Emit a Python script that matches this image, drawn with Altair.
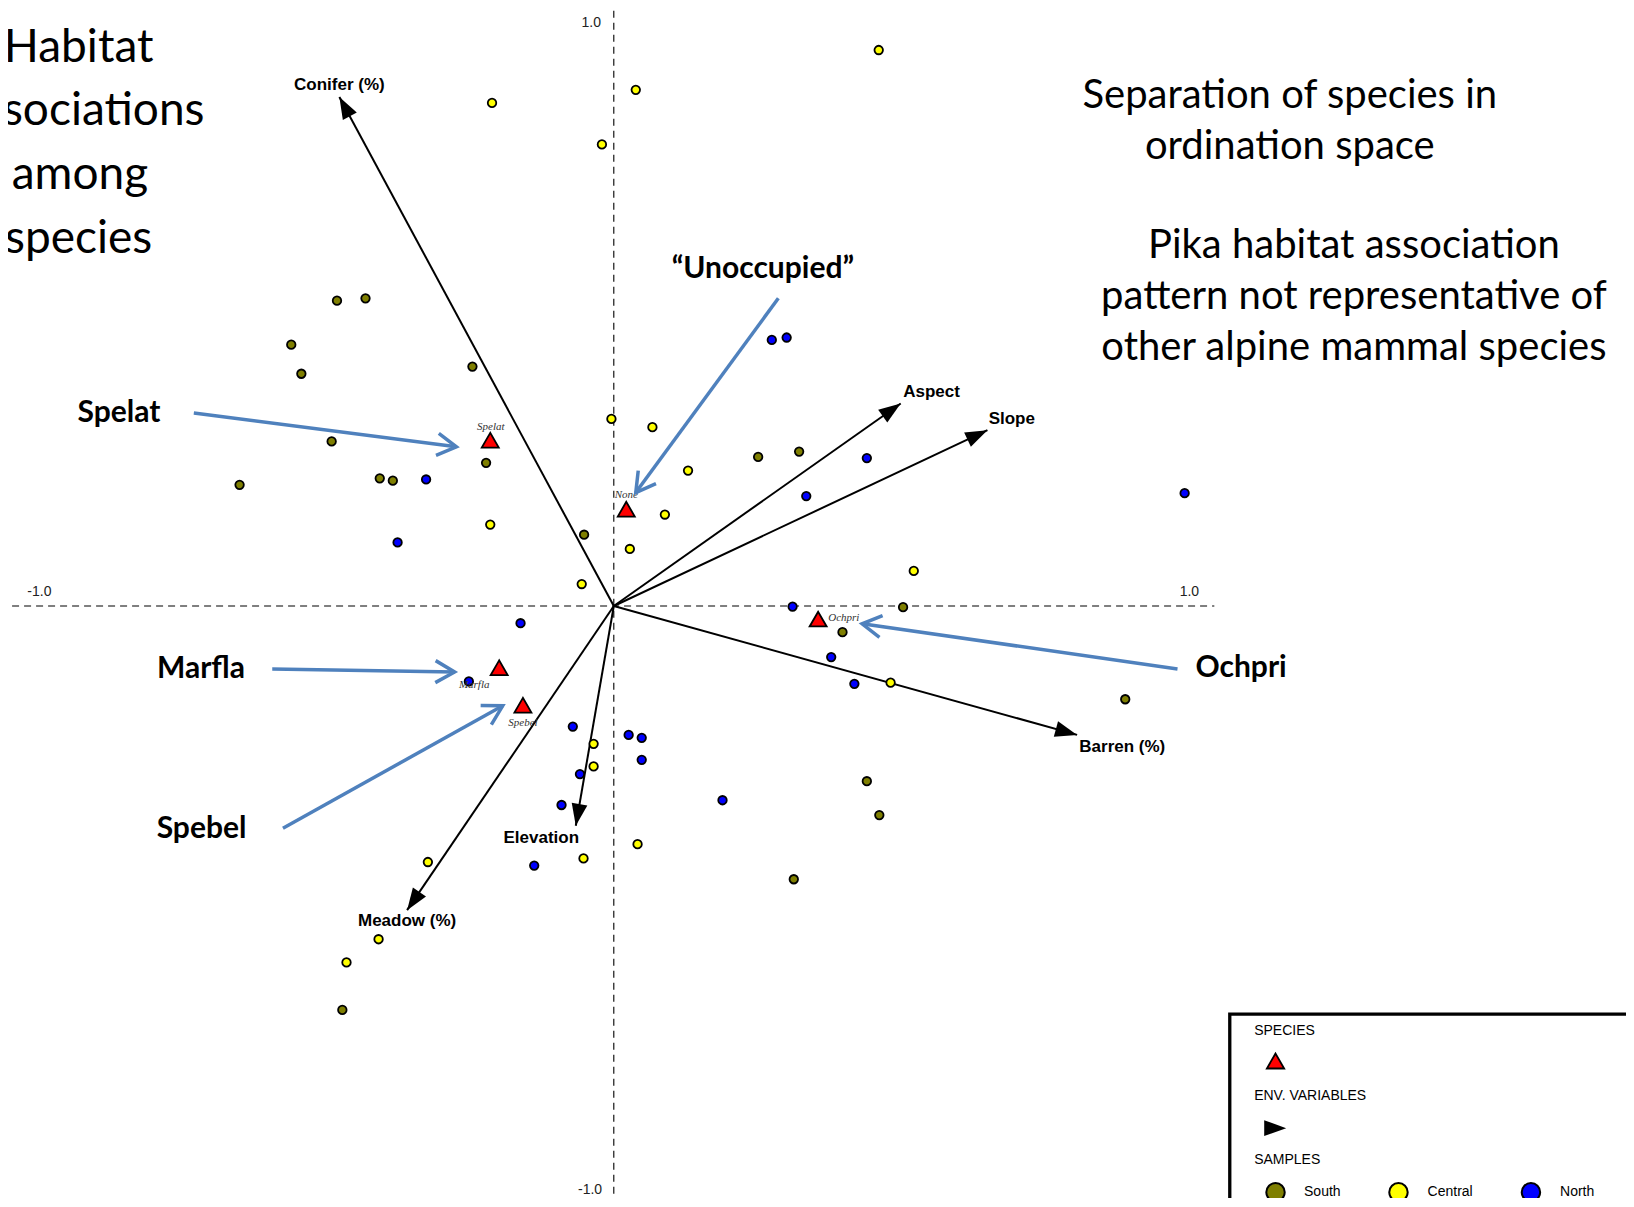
import math
import altair as alt
import pandas as pd

# ---------------- data (ordination coordinates) ----------------
south_x = [-0.466, -0.418, -0.543, -0.526, -0.238, -0.475, -0.630, -0.394, -0.372, -0.215,
           -0.050, 0.243, 0.312, 0.487, 0.385, 0.861, 0.426, 0.447, 0.303, -0.457]
south_y = [0.514, 0.518, 0.440, 0.391, 0.403, 0.277, 0.204, 0.215, 0.211, 0.241,
           0.120, 0.251, 0.260, -0.002, -0.044, -0.157, -0.295, -0.352, -0.460, -0.680]

central_x = [0.446, 0.037, -0.205, -0.020, -0.004, 0.065, 0.125, 0.086, 0.027, -0.208,
             -0.054, 0.505, 0.466, -0.034, -0.034, -0.051, 0.040, -0.313, -0.396, -0.450]
central_y = [0.936, 0.869, 0.847, 0.777, 0.315, 0.301, 0.228, 0.154, 0.096, 0.137,
             0.037, 0.059, -0.129, -0.232, -0.270, -0.425, -0.401, -0.431, -0.561, -0.600]

north_x = [-0.316, -0.364, 0.266, 0.291, 0.426, 0.324, 0.961, 0.301, 0.366, 0.405,
           0.025, 0.047, 0.047, 0.183, -0.157, -0.244, -0.069, -0.057, -0.088, -0.134]
north_y = [0.213, 0.107, 0.448, 0.452, 0.249, 0.185, 0.190, -0.001, -0.086, -0.131,
           -0.217, -0.222, -0.259, -0.327, -0.029, -0.127, -0.203, -0.283, -0.335, -0.437]

species_names = ["Spelat", "None", "Ochpri", "Marfla", "Spebel"]
species_x = [-0.208, 0.021, 0.344, -0.193, -0.153]
species_y = [0.279, 0.163, -0.022, -0.104, -0.167]
species_label_x = [-0.207, 0.021, 0.361, -0.235, -0.153]
species_label_y = [0.302, 0.187, -0.020, -0.133, -0.197]
species_label_align = ["center", "center", "left", "center", "center"]

env_names = ["Conifer (%)", "Aspect", "Slope", "Barren (%)", "Elevation", "Meadow (%)"]
env_x = [-0.462, 0.483, 0.629, 0.780, -0.064, -0.348]
env_y = [0.857, 0.341, 0.296, -0.217, -0.370, -0.512]
env_label_x = [-0.462, 0.535, 0.670, 0.856, -0.122, -0.348]
env_label_y = [0.877, 0.360, 0.315, -0.238, -0.391, -0.531]

ann_names = ["Spelat", "\u201cUnoccupied\u201d", "Ochpri", "Marfla", "Spebel"]
ann_label_x = [-0.833, 0.251, 1.056, -0.695, -0.694]
ann_label_y = [0.325, 0.568, -0.104, -0.106, -0.375]
ann_start_x = [-0.707, 0.277, 0.949, -0.575, -0.557]
ann_start_y = [0.325, 0.518, -0.106, -0.106, -0.374]
ann_end_x = [-0.265, 0.037, 0.418, -0.268, -0.187]
ann_end_y = [0.268, 0.191, -0.030, -0.111, -0.168]

axis_tick_labels = ["-1.0", "1.0", "1.0", "-1.0"]
axis_tick_x = [-0.967, 0.969, -0.038, -0.040]
axis_tick_y = [0.024, 0.024, 0.982, -0.984]

left_title = ["Habitat", "associations", "among", "species"]
left_title_x = [-0.775, -0.689, -0.784, -0.777]
left_title_y = [0.915, 0.809, 0.702, 0.594]

right_text = ["Separation of species in", "ordination space",
              "Pika habitat association", "pattern not representative of",
              "other alpine mammal species"]
right_text_x = [1.138, 1.138, 1.246, 1.246, 1.246]
right_text_y = [0.838, 0.753, 0.586, 0.500, 0.414]

legend_sections = ["SPECIES", "ENV. VARIABLES", "SAMPLES"]
legend_regions = ["South", "Central", "North"]
region_colors = ["#7f7f00", "#ffff00", "#0000ff"]

# ---------------- layout ----------------
UNIT = 594.0           # px per ordination unit
OX, OY = 613.8, 606.0  # page position of the origin
W, H = 1618, 1190
x_dom = [(8 - OX) / UNIT, (8 + W - OX) / UNIT]
y_dom = [(OY - 8 - H) / UNIT, (OY - 8) / UNIT]
xs = alt.Scale(domain=x_dom, nice=False, zero=False)
ys = alt.Scale(domain=y_dom, nice=False, zero=False)


def X(f):
    return alt.X(f, type="quantitative", scale=xs, axis=None)


def Y(f):
    return alt.Y(f, type="quantitative", scale=ys, axis=None)


def X2(f):
    return alt.X2(f)


def Y2(f):
    return alt.Y2(f)


def heading(dx, dy):
    return (math.degrees(math.atan2(dx, dy)) + 360.0) % 360.0


ARROW = "M0,0 L-0.36,1 L0.36,1 Z"
CHEVRON = "M-0.5,0.87 L0,0 L0.5,0.87"
BLUE = "#4f81bd"

# ---------------- frames ----------------
samples = pd.DataFrame({
    "x": south_x + central_x + north_x,
    "y": south_y + central_y + north_y,
    "region": ["South"] * len(south_x) + ["Central"] * len(central_x) + ["North"] * len(north_x),
})

env = pd.DataFrame({"name": env_names, "x": env_x, "y": env_y,
                    "lx": env_label_x, "ly": env_label_y})
env["x0"] = 0.0
env["y0"] = 0.0
env["ang"] = [heading(a, b) for a, b in zip(env_x, env_y)]

species = pd.DataFrame({"name": species_names, "x": species_x, "y": species_y,
                        "lx": species_label_x, "ly": species_label_y,
                        "align": species_label_align})

ann = pd.DataFrame({"name": ann_names, "lx": ann_label_x, "ly": ann_label_y,
                    "x0": ann_start_x, "y0": ann_start_y, "x1": ann_end_x, "y1": ann_end_y})
ann["ang"] = [heading(b - a, d - c) for a, b, c, d in
              zip(ann_start_x, ann_end_x, ann_start_y, ann_end_y)]

axes_df = pd.DataFrame({"x": [-1.013, 0.0], "x2": [1.011, 0.0],
                        "y": [0.0, -1.05], "y2": [0.0, 1.010]})
ticks_df = pd.DataFrame({"t": axis_tick_labels, "x": axis_tick_x, "y": axis_tick_y})
left_df = pd.DataFrame({"t": left_title, "x": left_title_x, "y": left_title_y})
right_df = pd.DataFrame({"t": right_text, "x": right_text_x, "y": right_text_y})

# legend frames
leg_box = pd.DataFrame({"x": [1.037], "x2": [1.80], "y": [-0.687], "y2": [-1.10]})
leg_sec = pd.DataFrame({"t": legend_sections, "x": [1.078] * 3, "y": [-0.716, -0.825, -0.932]})
leg_tri = pd.DataFrame({"x": [1.114], "y": [-0.766]})
leg_arrow = pd.DataFrame({"x": [1.132], "y": [-0.879], "ang": [90.0]})
leg_circ = pd.DataFrame({"region": legend_regions, "x": [1.114, 1.321, 1.544], "y": [-0.987] * 3,
                         "lx": [1.162, 1.370, 1.593]})

fill_scale = alt.Scale(domain=legend_regions, range=region_colors)

# ---------------- layers ----------------
axes_layer = alt.Chart(axes_df).mark_rule(color="black", strokeWidth=1.1, strokeDash=[7, 5]).encode(
    x=X("x"), x2=X2("x2"), y=Y("y"), y2=Y2("y2"))

ticks_layer = alt.Chart(ticks_df).mark_text(font="Liberation Sans", fontSize=14, color="#222222",
                                            align="center", baseline="middle").encode(
    x=X("x"), y=Y("y"), text="t:N")

env_lines = alt.Chart(env).mark_rule(color="black", strokeWidth=2).encode(
    x=X("x0"), y=Y("y0"), x2=X2("x"), y2=Y2("y"))
env_heads = alt.Chart(env).mark_point(shape=ARROW, filled=True, color="black", size=1936, opacity=1).encode(
    x=X("x"), y=Y("y"), angle=alt.Angle("ang:Q", scale=None))
env_labels = alt.Chart(env).mark_text(font="Liberation Sans", fontWeight="bold", fontSize=17,
                                      color="black", align="center", baseline="middle").encode(
    x=X("lx"), y=Y("ly"), text="name:N")

sample_pts = alt.Chart(samples).mark_point(shape="circle", filled=True, size=72, stroke="black",
                                           strokeWidth=1.8, opacity=1).encode(
    x=X("x"), y=Y("y"), fill=alt.Fill("region:N", scale=fill_scale, legend=None))

species_pts = alt.Chart(species).mark_point(shape="triangle-up", filled=True, fill="#ff0000",
                                            stroke="black", strokeWidth=1.8, size=289, opacity=1).encode(
    x=X("x"), y=Y("y"))
species_lab_c = alt.Chart(species).transform_filter(alt.datum.align == "center").mark_text(
    font="Liberation Serif", fontStyle="italic", fontSize=11, color="#333333",
    align="center", baseline="middle").encode(x=X("lx"), y=Y("ly"), text="name:N")
species_lab_l = alt.Chart(species).transform_filter(alt.datum.align == "left").mark_text(
    font="Liberation Serif", fontStyle="italic", fontSize=11, color="#333333",
    align="left", baseline="middle").encode(x=X("lx"), y=Y("ly"), text="name:N")

ann_lines = alt.Chart(ann).mark_rule(color=BLUE, strokeWidth=3.5).encode(
    x=X("x0"), y=Y("y0"), x2=X2("x1"), y2=Y2("y1"))
ann_heads = alt.Chart(ann).mark_point(shape=CHEVRON, filled=False, stroke=BLUE, strokeWidth=3.5,
                                      size=1936, opacity=1).encode(
    x=X("x1"), y=Y("y1"), angle=alt.Angle("ang:Q", scale=None))
ann_labels = alt.Chart(ann).mark_text(font="Lato", fontWeight="bold", fontSize=30, color="black",
                                      align="center", baseline="middle").encode(
    x=X("lx"), y=Y("ly"), text="name:N")

left_layer = alt.Chart(left_df).mark_text(font="Lato", fontSize=46, color="black",
                                          align="right", baseline="alphabetic").encode(
    x=X("x"), y=Y("y"), text="t:N")
right_layer = alt.Chart(right_df).mark_text(font="Lato", fontSize=40, color="black",
                                            align="center", baseline="alphabetic").encode(
    x=X("x"), y=Y("y"), text="t:N")

leg_box_layer = alt.Chart(leg_box).mark_rect(fill="white", stroke="black", strokeWidth=3.3).encode(
    x=X("x"), x2=X2("x2"), y=Y("y"), y2=Y2("y2"))
leg_sec_layer = alt.Chart(leg_sec).mark_text(font="Liberation Sans", fontSize=14, color="black",
                                             align="left", baseline="middle").encode(
    x=X("x"), y=Y("y"), text="t:N")
leg_tri_layer = alt.Chart(leg_tri).mark_point(shape="triangle-up", filled=True, fill="#ff0000",
                                              stroke="black", strokeWidth=1.8, size=300, opacity=1).encode(
    x=X("x"), y=Y("y"))
leg_arrow_layer = alt.Chart(leg_arrow).mark_point(shape=ARROW, filled=True, color="black",
                                                  size=1936, opacity=1).encode(
    x=X("x"), y=Y("y"), angle=alt.Angle("ang:Q", scale=None))
leg_circ_layer = alt.Chart(leg_circ).mark_point(shape="circle", filled=True, size=340, stroke="black",
                                                strokeWidth=2, opacity=1).encode(
    x=X("x"), y=Y("y"), fill=alt.Fill("region:N", scale=fill_scale, legend=None))
leg_circ_text = alt.Chart(leg_circ).mark_text(font="Liberation Sans", fontSize=14, color="black",
                                              align="left", baseline="middle").encode(
    x=X("lx"), y=Y("y"), text="region:N")

chart = alt.layer(
    axes_layer, ticks_layer, env_lines, env_heads, sample_pts, species_pts,
    env_labels, species_lab_c, species_lab_l, ann_lines, ann_heads, ann_labels,
    left_layer, right_layer,
    leg_box_layer, leg_sec_layer, leg_tri_layer, leg_arrow_layer, leg_circ_layer, leg_circ_text,
).properties(
    width=W, height=H, padding=0, autosize=alt.AutoSizeParams(type="none"),
).configure_view(stroke=None)

chart.save("out.html", embed_options={"renderer": "svg", "actions": False})
